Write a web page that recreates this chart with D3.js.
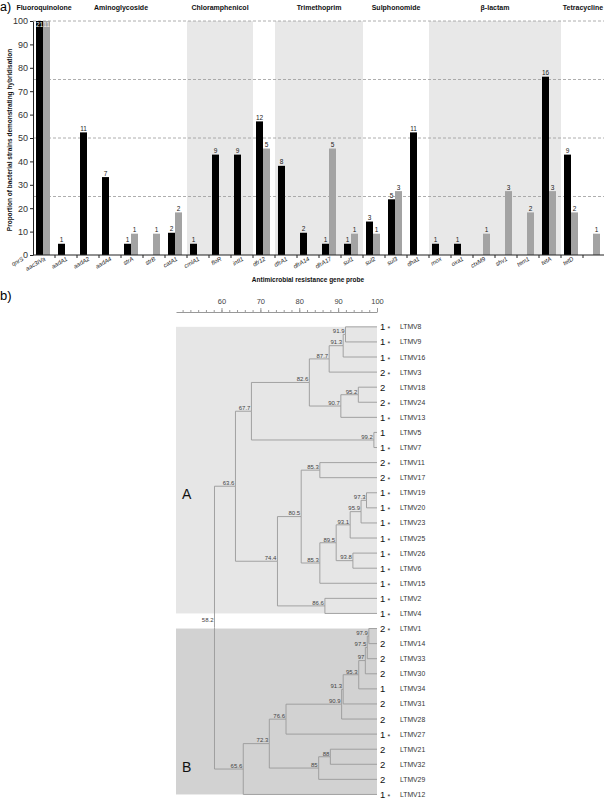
<!DOCTYPE html>
<html>
<head>
<meta charset="utf-8">
<script src="https://cdn.jsdelivr.net/npm/d3@7"></script>
<style>
body { margin: 0; background: #fff; }
svg { display: block; font-family: "Liberation Sans", Arial, sans-serif; }
</style>
</head>
<body>
<svg id="fig" width="604" height="805"></svg>
<script>
// ---- panel a data ----
var genes = ["qnrS","aac3IVa","aadA1","aadA2","aadA4","strA","strB","catA1","cmlA1","floR","intI1","dfr12","dfrA1","dfrA14","dfrA17","sul1","sul2","sul3","dha1","mox","oxa1","ctxM9","shv1","tem1","tetA","tetD"];
// black bars (% of 21 strains) and their counts
var blackPct = [100,4.8,52.4,33.3,4.8,0,9.5,4.8,42.9,42.9,57.1,38.1,9.5,4.8,4.8,14.3,23.8,52.4,4.8,4.8,0,0,0,76.2,42.9,0];
var blackN   = [21,1,11,7,1,0,2,1,9,9,12,8,2,1,1,3,5,11,1,1,0,0,0,16,9,0];
// grey bars (% of 11 strains) and their counts
var greyPct  = [100,0,0,0,9.1,9.1,18.2,0,0,0,45.5,0,0,45.5,9.1,9.1,27.3,0,0,0,9.1,27.3,18.2,27.3,18.2,9.1];
var greyN    = [11,0,0,0,1,1,2,0,0,0,5,0,0,5,1,1,3,0,0,0,1,3,2,3,2,1];

var yTicks = [0,10,20,30,40,50,60,70,80,90,100];
var refLines = [25,50,75,100];

var groupNames  = ["Fluoroquinolone","Aminoglycoside","Chloramphenicol","Trimethoprim","Sulphonomide","\u03b2-lactam","Tetracycline"];
var groupFirst  = ["qnrS","aac3IVa","catA1","dfr12","sul1","dha1","tetA"];
var groupLast   = ["qnrS","strB","floR","dfrA17","sul3","tem1","tetD"];
var groupShaded = [false,false,true,true,false,true,false];

// ---- panel b data ----
var newick = "(((((((LTMV8,LTMV9)91.9,LTMV16)91.3,LTMV3)87.7,((LTMV18,LTMV24)95.2,LTMV13)90.7)82.6,(LTMV5,LTMV7)99.2)67.7," +
  "(((LTMV11,LTMV17)85.3,(((((LTMV19,LTMV20)97.3,LTMV23)95.9,LTMV25)93.1,(LTMV26,LTMV6)93.8)89.5,LTMV15)85.3)80.5,(LTMV2,LTMV4)86.6)74.4)63.6," +
  "(((((((((LTMV1,LTMV14)97.9,LTMV33)97.5,LTMV30)97,LTMV34)95.3,LTMV31)91.3,LTMV28)90.9,LTMV27)76.6,((LTMV21,LTMV32)88,LTMV29)85)72.3,LTMV12)65.6)58.2";
var leafNames = ["LTMV8","LTMV9","LTMV16","LTMV3","LTMV18","LTMV24","LTMV13","LTMV5","LTMV7","LTMV11","LTMV17","LTMV19","LTMV20","LTMV23","LTMV25","LTMV26","LTMV6","LTMV15","LTMV2","LTMV4","LTMV1","LTMV14","LTMV33","LTMV30","LTMV34","LTMV31","LTMV28","LTMV27","LTMV21","LTMV32","LTMV29","LTMV12"];
var leafType  = [1,1,1,2,2,2,1,1,1,2,2,1,1,1,1,1,1,1,1,1,2,2,2,2,1,2,2,1,2,2,2,1];
var leafStar  = [1,1,1,1,0,1,1,0,1,1,1,1,1,1,1,1,1,1,1,1,1,0,0,0,0,0,0,1,0,0,0,1];
var clusterNames = ["A","B"];
var simTicks = [60,70,80,90,100];

var svg = d3.select("#fig");

// =========== a) bar chart ===========
var x = d3.scaleBand().domain(genes).range([33, 33 + genes.length * 22]);
var sub = d3.scaleBand().domain(["black","grey"]).range([3, 17]);
var y = d3.scaleLinear().domain([0, 100]).range([255, 21]);
var plotRight = 604;

svg.append("text").attr("x", 0).attr("y", 11).attr("font-size", 12.5).text("a)");

// shaded drug classes + class titles
groupNames.forEach(function(name, i) {
  var x0 = x(groupFirst[i]), x1 = x(groupLast[i]) + x.bandwidth();
  if (groupShaded[i]) {
    svg.append("rect").attr("x", x0).attr("y", y(100)).attr("width", x1 - x0)
      .attr("height", y(0) - y(100)).attr("fill", "#e8e8e8");
  }
  svg.append("text").attr("x", (x0 + x1) / 2).attr("y", 9.5)
    .attr("text-anchor", "middle").attr("font-size", 7).attr("font-weight", "bold")
    .attr("fill", "#111").text(name);
});

// dashed reference lines
svg.selectAll("line.ref").data(refLines).enter().append("line")
  .attr("class", "ref")
  .attr("x1", x.range()[0]).attr("x2", plotRight)
  .attr("y1", function(d) { return y(d); }).attr("y2", function(d) { return y(d); })
  .attr("stroke", "#999").attr("stroke-width", 0.8).attr("stroke-dasharray", "3,2");

var barData = [];
genes.forEach(function(g, i) {
  barData.push({ gene: g, s: "black", v: blackPct[i], n: blackN[i] });
  barData.push({ gene: g, s: "grey", v: greyPct[i], n: greyN[i] });
});
var shown = barData.filter(function(d) { return d.n > 0; });

svg.selectAll("rect.bar").data(shown).enter().append("rect")
  .attr("class", "bar")
  .attr("x", function(d) { return x(d.gene) + sub(d.s); })
  .attr("width", sub.bandwidth())
  .attr("y", function(d) { return y(d.v); })
  .attr("height", function(d) { return y(0) - y(d.v); })
  .attr("fill", function(d) { return d.s === "black" ? "#000" : "#a3a3a3"; });

svg.selectAll("text.cnt").data(shown).enter().append("text")
  .attr("class", "cnt")
  .attr("x", function(d) { return x(d.gene) + sub(d.s) + sub.bandwidth() / 2; })
  .attr("y", function(d) { return d.v >= 95 ? y(d.v) + 6 : y(d.v) - 1.5; })
  .attr("text-anchor", "middle").attr("font-size", 6.5)
  .attr("fill", function(d) { return d.v >= 95 ? "#f2f2f2" : "#222"; })
  .text(function(d) { return d.n; });

// y axis
var yAxis = svg.append("g").attr("transform", "translate(" + x.range()[0] + ",0)")
  .call(d3.axisLeft(y).tickValues(yTicks).tickSize(3).tickSizeOuter(0).tickPadding(2));
yAxis.selectAll("text").attr("font-size", 9).attr("fill", "#333").attr("font-family", "Liberation Sans, Arial, sans-serif");
yAxis.selectAll("line,path").attr("stroke", "#222");

// x axis line with ticks at category boundaries
svg.append("line").attr("x1", x.range()[0]).attr("x2", plotRight)
  .attr("y1", y(0)).attr("y2", y(0)).attr("stroke", "#222");
svg.selectAll("line.xt").data(genes.slice(1)).enter().append("line")
  .attr("class", "xt")
  .attr("x1", function(d) { return x(d); }).attr("x2", function(d) { return x(d); })
  .attr("y1", y(0)).attr("y2", y(0) + 3).attr("stroke", "#222");

svg.selectAll("text.gene").data(genes).enter().append("text")
  .attr("class", "gene")
  .attr("transform", function(d) { return "translate(" + (x(d) - 9) + "," + 260 + ") rotate(-30)"; })
  .attr("text-anchor", "end").attr("font-size", 6).attr("font-style", "italic")
  .attr("fill", "#222").text(function(d) { return d; });

svg.append("text").attr("x", 308).attr("y", 282).attr("text-anchor", "middle")
  .attr("font-size", 6.5).attr("font-weight", "bold").attr("fill", "#111")
  .text("Antimicrobial resistance gene probe");

svg.append("text").attr("transform", "translate(12,140) rotate(-90)")
  .attr("text-anchor", "middle").attr("font-size", 6.5).attr("font-weight", "bold").attr("fill", "#111")
  .text("Proportion of bacterial strains demonstrating hybridisation");

// =========== b) dendrogram ===========
function parseNewick(s) {
  var i = 0;
  function node() {
    var n = {};
    if (s[i] === "(") {
      i++;
      n.children = [node()];
      while (s[i] === ",") { i++; n.children.push(node()); }
      i++;
    }
    var j = i;
    while (i < s.length && ",)".indexOf(s[i]) < 0) i++;
    var lab = s.slice(j, i);
    if (n.children) n.sim = +lab; else { n.name = lab; n.sim = 100; }
    return n;
  }
  return node();
}

var root = d3.hierarchy(parseNewick(newick));
var leafTop = 319.3, leafBottom = 802;
d3.cluster().separation(function() { return 1; }).size([leafBottom - leafTop, 1])(root);

var xs = d3.scaleLinear().domain([48.3, 100]).range([176, 377]);
function ny(d) { return leafTop + d.x; }
function nx(d) { return xs(d.data.sim); }

svg.append("text").attr("x", 0).attr("y", 300).attr("font-size", 13).text("b)");

// cluster boxes
var boxFill = ["#e6e6e6", "#d2d2d2"];
root.children.forEach(function(c, i) {
  var lv = c.leaves();
  var y0 = ny(lv[0]), y1 = ny(lv[lv.length - 1]);
  svg.append("rect").attr("x", xs.range()[0]).attr("y", y0)
    .attr("width", xs.range()[1] - xs.range()[0]).attr("height", y1 - y0)
    .attr("fill", boxFill[i]);
});

// similarity axis
var axisY = 312;
var minor = svg.append("g").attr("transform", "translate(0," + axisY + ")")
  .call(d3.axisTop(xs).tickValues(d3.range(50, 101, 2)).tickSize(2).tickSizeOuter(0).tickFormat(""));
var major = svg.append("g").attr("transform", "translate(0," + axisY + ")")
  .call(d3.axisTop(xs).tickValues(simTicks).tickSize(4).tickSizeOuter(0).tickPadding(4));
major.select("path").remove();
[minor, major].forEach(function(g) { g.selectAll("line,path").attr("stroke", "#999"); });
major.selectAll("text").attr("font-size", 7.5).attr("fill", "#444").attr("font-family", "Liberation Sans, Arial, sans-serif");

// branches
var links = root.links();
svg.selectAll("path.branch").data(links).enter().append("path")
  .attr("class", "branch")
  .attr("d", function(l) {
    return "M" + nx(l.source) + "," + ny(l.source) + "V" + ny(l.target) + "H" + nx(l.target);
  })
  .attr("fill", "none").attr("stroke", "#9a9a9a").attr("stroke-width", 0.9);

// node similarity labels
svg.selectAll("text.sim").data(root.descendants().filter(function(d) { return d.children; })).enter()
  .append("text").attr("class", "sim")
  .attr("x", function(d) { return nx(d) - 1; })
  .attr("y", function(d) { return ny(d) - (d.parent ? 1.2 : 6); })
  .attr("text-anchor", "end").attr("font-size", 6).attr("fill", "#444")
  .text(function(d) { return d.data.sim; });

// leaf annotations
var leaves = root.leaves();
leaves.forEach(function(d) {
  var k = leafNames.indexOf(d.data.name);
  var yy = ny(d);
  svg.append("text").attr("x", 380).attr("y", yy + 3.5).attr("font-size", 9.5).attr("fill", "#111")
    .text(leafType[k]);
  if (leafStar[k]) {
    svg.append("text").attr("x", 387.5).attr("y", yy + 4.5).attr("font-size", 7).attr("fill", "#333").text("*");
  }
  svg.append("text").attr("x", 400).attr("y", yy + 2.5).attr("font-size", 6.8).attr("fill", "#333")
    .text(d.data.name);
});

// cluster letters
svg.append("text").attr("x", 182).attr("y", 499).attr("font-size", 14).attr("fill", "#111").text(clusterNames[0]);
svg.append("text").attr("x", 182).attr("y", 772).attr("font-size", 14).attr("fill", "#111").text(clusterNames[1]);
</script>
</body>
</html>
